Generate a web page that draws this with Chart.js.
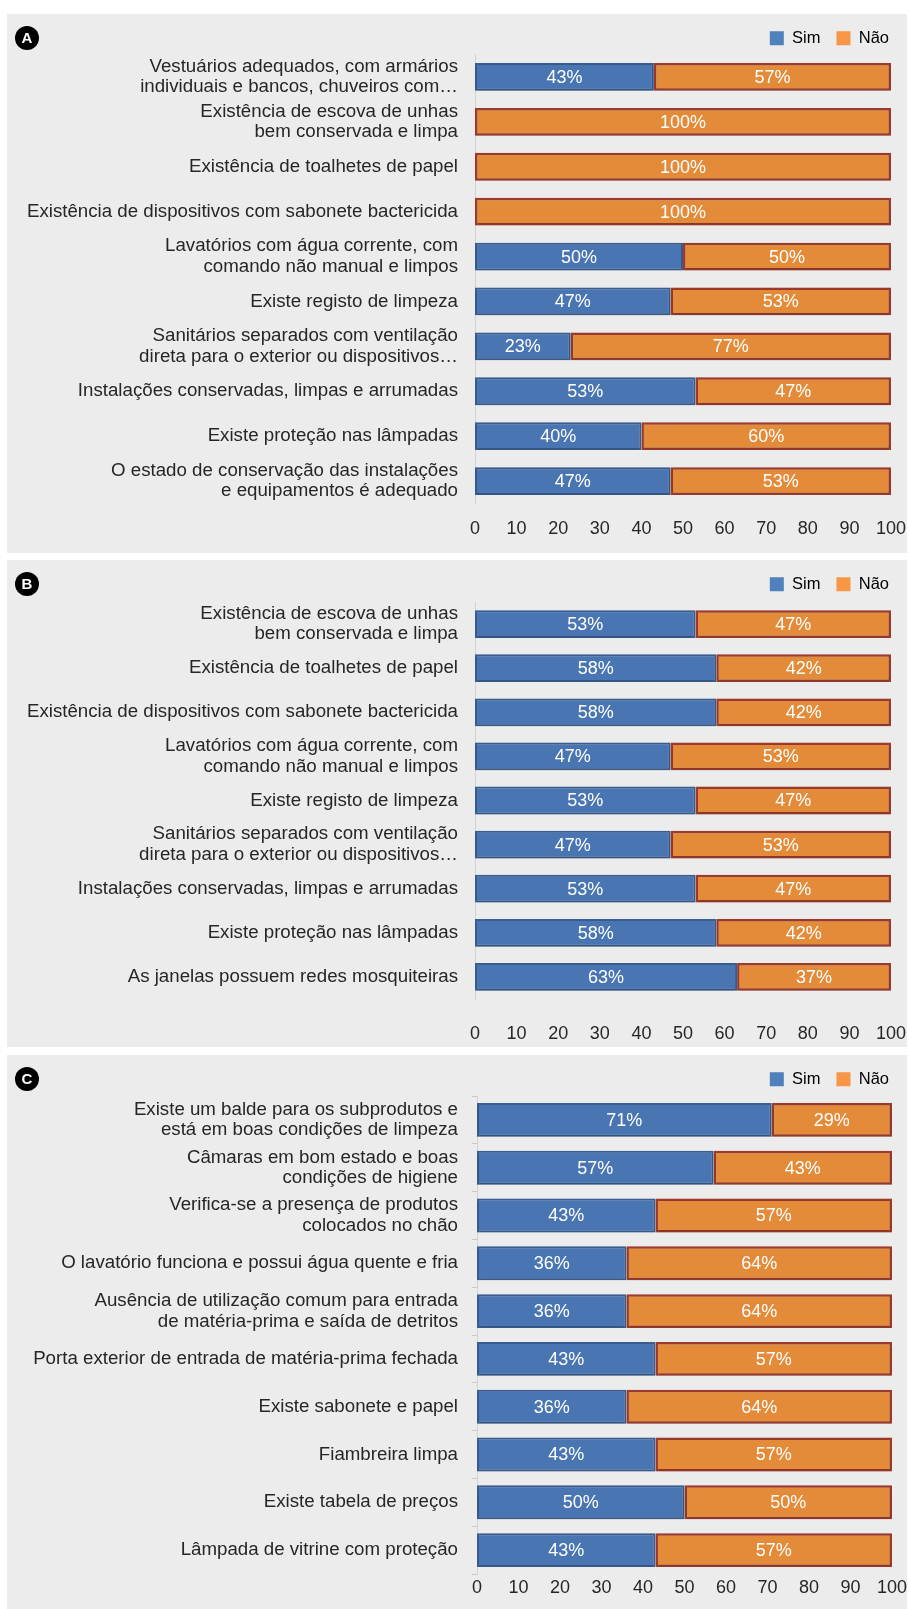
<!DOCTYPE html>
<html>
<head>
<meta charset="utf-8">
<script src="https://cdn.jsdelivr.net/npm/chart.js@4.4.0/dist/chart.umd.min.js"></script>
<style>
  body { margin: 0; background: #fff; width: 909px; height: 1609px; position: relative; overflow: hidden; }
  .panel { position: absolute; left: 7px; width: 900px; background: #ececec; }
  .panel canvas { position: absolute; left: 0; top: 0; }
  .tag { position: absolute; left: 8px; top: 12px; width: 24px; height: 24px; border-radius: 50%;
         background: #000; color: #fff; font: bold 15px/24px "Liberation Sans", Arial, sans-serif; text-align: center; z-index: 2; }
</style>
</head>
<body>
<div class="panel" id="panelA" style="top:14px;height:539px"><div class="tag">A</div><canvas id="chartA" width="900" height="539"></canvas></div>
<div class="panel" id="panelB" style="top:560px;height:487px"><div class="tag">B</div><canvas id="chartB" width="900" height="487"></canvas></div>
<div class="panel" id="panelC" style="top:1055px;height:554px"><div class="tag">C</div><canvas id="chartC" width="900" height="554"></canvas></div>

<script>
// Series names and axis ticks
const seriesNames = ["Sim", "Não"];
const xTicks = [0, 10, 20, 30, 40, 50, 60, 70, 80, 90, 100];

// A
const labelsA = [
    ["Vestuários adequados, com armários", "individuais e bancos, chuveiros com…"],
    ["Existência de escova de unhas", "bem conservada e limpa"],
    "Existência de toalhetes de papel",
    "Existência de dispositivos com sabonete bactericida",
    ["Lavatórios com água corrente, com", "comando não manual e limpos"],
    "Existe registo de limpeza",
    ["Sanitários separados com ventilação", "direta para o exterior ou dispositivos…"],
    "Instalações conservadas, limpas e arrumadas",
    "Existe proteção nas lâmpadas",
    ["O estado de conservação das instalações", "e equipamentos é adequado"]
];
const simA = [43, 0, 0, 0, 50, 47, 23, 53, 40, 47];
const naoA = [57, 100, 100, 100, 50, 53, 77, 47, 60, 53];

// B
const labelsB = [
    ["Existência de escova de unhas", "bem conservada e limpa"],
    "Existência de toalhetes de papel",
    "Existência de dispositivos com sabonete bactericida",
    ["Lavatórios com água corrente, com", "comando não manual e limpos"],
    "Existe registo de limpeza",
    ["Sanitários separados com ventilação", "direta para o exterior ou dispositivos…"],
    "Instalações conservadas, limpas e arrumadas",
    "Existe proteção nas lâmpadas",
    "As janelas possuem redes mosquiteiras"
];
const simB = [53, 58, 58, 47, 53, 47, 53, 58, 63];
const naoB = [47, 42, 42, 53, 47, 53, 47, 42, 37];

// C
const labelsC = [
    ["Existe um balde para os subprodutos e", "está em boas condições de limpeza"],
    ["Câmaras em bom estado e boas", "condições de higiene"],
    ["Verifica-se a presença de produtos", "colocados no chão"],
    "O lavatório funciona e possui água quente e fria",
    ["Ausência de utilização comum para entrada", "de matéria-prima e saída de detritos"],
    "Porta exterior de entrada de matéria-prima fechada",
    "Existe sabonete e papel",
    "Fiambreira limpa",
    "Existe tabela de preços",
    "Lâmpada de vitrine com proteção"
];
const simC = [71, 57, 43, 36, 36, 43, 36, 43, 50, 43];
const naoC = [29, 43, 57, 64, 64, 57, 64, 57, 50, 57];

const FONT = '"Liberation Sans", Arial, sans-serif';
const TEXT = "#262626";
const legendFill = ["#4f81bd", "#f79646"];

// white "NN%" inside each segment, soft shadow under the bars
const barLabels = {
    id: "barLabels",
    beforeDatasetsDraw(chart) {
        const ctx = chart.ctx;
        ctx.save();
        ctx.shadowColor = "rgba(0,0,0,0.22)";
        ctx.shadowBlur = 3;
        ctx.shadowOffsetY = 1;
    },
    afterDatasetsDraw(chart) {
        const ctx = chart.ctx;
        ctx.restore();
        ctx.save();
        ctx.font = "18px " + FONT;
        ctx.fillStyle = "#fff";
        ctx.textAlign = "center";
        ctx.textBaseline = "middle";
        chart.data.datasets.forEach((ds, i) => {
            chart.getDatasetMeta(i).data.forEach((bar, j) => {
                const v = ds.data[j];
                if (!v) return;
                ctx.fillText(v + "%", (bar.x + bar.base) / 2, bar.y + 1);
            });
        });
        ctx.restore();
    }
};

function makePanel(id, labels, sim, nao, o) {
    new Chart(document.getElementById(id), {
        type: "bar",
        data: {
            labels: labels,
            datasets: [
                { label: seriesNames[0], data: sim, backgroundColor: "#4976b2", borderColor: "#3a5e92",
                  borderWidth: 2, borderSkipped: false, barPercentage: o.bar, categoryPercentage: 1 },
                { label: seriesNames[1], data: nao, backgroundColor: "#e38b38", borderColor: "#9e3b2c",
                  borderWidth: 2.5, borderSkipped: false, barPercentage: o.bar, categoryPercentage: 1 }
            ]
        },
        options: {
            indexAxis: "y",
            responsive: false,
            animation: false,
            layout: { padding: { top: 0, right: 2, bottom: 0, left: 0 } },
            plugins: {
                tooltip: { enabled: false },
                legend: {
                    position: "top",
                    align: "end",
                    maxHeight: o.legendH,
                    labels: {
                        boxWidth: 14,
                        boxHeight: 14,
                        padding: 16,
                        color: TEXT,
                        font: { family: FONT, size: 16.5 },
                        generateLabels: chart => chart.data.datasets.map((ds, i) => ({
                            text: ds.label, fillStyle: legendFill[i], strokeStyle: legendFill[i],
                            lineWidth: 0, datasetIndex: i
                        }))
                    }
                }
            },
            scales: {
                x: {
                    stacked: true,
                    min: 0,
                    max: 100,
                    afterBuildTicks: s => { s.ticks = xTicks.map(v => ({ value: v })); },
                    afterFit: s => { s.height = o.xH; s.paddingRight = o.padR; s.paddingLeft = 0; },
                    grid: { display: false, drawTicks: false },
                    border: { display: false },
                    ticks: { color: TEXT, font: { family: FONT, size: 18 }, padding: o.xPad, maxRotation: 0 }
                },
                y: {
                    stacked: true,
                    afterFit: s => { s.width = o.yW; },
                    grid: { display: true, drawOnChartArea: false, drawTicks: o.yTicks, tickLength: 5, color: "#c9c9c9" },
                    border: { display: true, color: "#d2d2d2", width: 1 },
                    ticks: { autoSkip: false, color: TEXT, font: { family: FONT, size: 18.7, lineHeight: 1.1 }, padding: o.yPad }
                }
            }
        },
        plugins: [barLabels]
    });
}

makePanel("chartA", labelsA, simA, naoA, { bar: 0.62, legendH: 40.5, xH: 49.5, xPad: 15, padR: 16, yW: 468, yPad: 17, yTicks: false });
makePanel("chartB", labelsB, simB, naoB, { bar: 0.63, legendH: 42, xH: 48, xPad: 24, padR: 16, yW: 468, yPad: 17, yTicks: false });
makePanel("chartC", labelsC, simC, naoC, { bar: 0.71, legendH: 41, xH: 35, xPad: 3, padR: 15, yW: 470, yPad: 14, yTicks: true });
</script>
</body>
</html>
